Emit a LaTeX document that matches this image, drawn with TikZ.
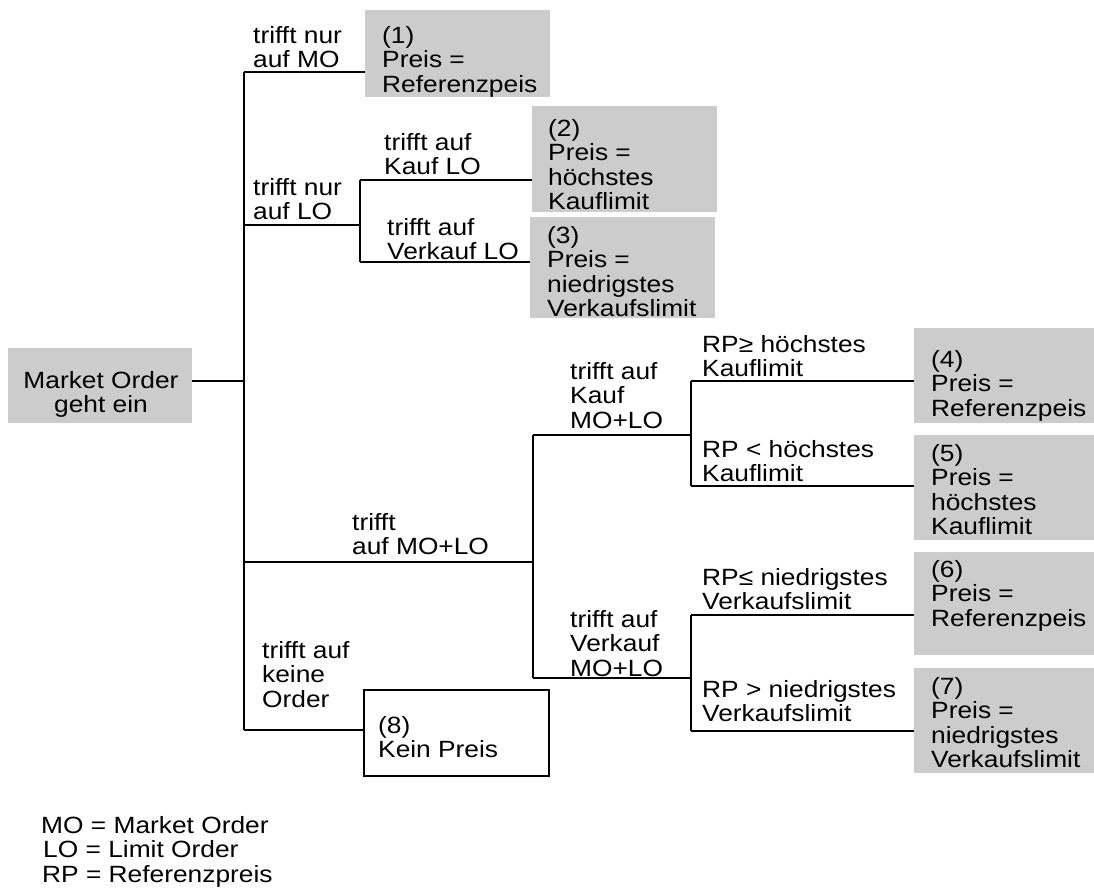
\documentclass[tikz,border=0pt]{standalone}
\usepackage{fontspec}
\setmainfont{Liberation Sans}[FakeStretch=1.12]
\definecolor{boxgray}{HTML}{CCCCCC}
\newcommand\diagfont{\fontsize{23.5}{24.5}\selectfont\lineskiplimit=-100pt\relax}
\tikzset{
  gbox/.style={fill=boxgray, draw=none, inner sep=0pt, anchor=north west},
  wbox/.style={draw=black, line width=1.6pt, fill=white, inner sep=0pt, anchor=north west},
  txt/.style={inner sep=0pt, anchor=north west, align=left, font=\diagfont},
  ctxt/.style={inner sep=0pt, anchor=north, align=center, font=\diagfont},
  ln/.style={line width=2pt, draw=black}
}
\begin{document}
\begin{tikzpicture}[x=1pt,y=-1pt]
\useasboundingbox (0,0) rectangle (1094,891);

% boxes
\node[gbox, minimum width=184pt, minimum height=75pt] (mo) at (8,348) {};
\node[gbox, minimum width=185pt, minimum height=87pt] (b1) at (365,10) {};
\node[gbox, minimum width=185pt, minimum height=106pt] (b2) at (532,106) {};
\node[gbox, minimum width=185pt, minimum height=101pt] (b3) at (530,217) {};
\node[gbox, minimum width=180pt, minimum height=95pt] (b4) at (914,328) {};
\node[gbox, minimum width=180pt, minimum height=105pt] (b5) at (914,435) {};
\node[gbox, minimum width=180pt, minimum height=103pt] (b6) at (914,552) {};
\node[gbox, minimum width=180pt, minimum height=105pt] (b7) at (914,668) {};
\node[wbox, minimum width=185pt, minimum height=86pt] (b8) at (363,689) {};

% junction coordinates
\coordinate (jm) at (244,381);
\coordinate (v0t) at (244,72);
\coordinate (v0b) at (244,730);
\coordinate (jlo) at (244,225);
\coordinate (jml) at (244,562);
\coordinate (s1t) at (360,180);
\coordinate (s1b) at (360,262);
\coordinate (s2t) at (533,435);
\coordinate (s2b) at (533,678);
\coordinate (s3t) at (691,381);
\coordinate (s3b) at (691,486);
\coordinate (s4t) at (691,615);
\coordinate (s4b) at (691,731);

% connectors
\draw[ln] (mo.east |- jm) -- (jm);
\draw[ln] (v0t) -- (v0b);
\draw[ln] (v0t) -- (v0t -| b1.west);
\draw[ln] (jlo) -- (jlo -| s1t);
\draw[ln] (s1t) -- (s1b);
\draw[ln] (s1t) -- (s1t -| b2.west);
\draw[ln] (s1b) -- (s1b -| b3.west);
\draw[ln] (jml) -- (jml -| s2t);
\draw[ln] (s2t) -- (s2b);
\draw[ln] (s2t) -- (s2t -| s3t);
\draw[ln] (s2b) -- (s2b -| s4t);
\draw[ln] (s3t) -- (s3b);
\draw[ln] (s3t) -- (s3t -| b4.west);
\draw[ln] (s3b) -- (s3b -| b5.west);
\draw[ln] (s4t) -- (s4b);
\draw[ln] (s4t) -- (s4t -| b6.west);
\draw[ln] (s4b) -- (s4b -| b7.west);
\draw[ln] (v0b) -- (v0b -| b8.west);

% texts (anchor = top of first line = baseline - 17)
\node[ctxt] (mot) at (101,371) {\strut Market Order\\geht ein};
\node[txt] (t1) at (253,26) {\strut trifft nur\\auf MO};
\node[txt] (b1t) at (382,26) {\strut (1)\\Preis =\\Referenzpeis};
\node[txt] (t2) at (253,178) {\strut trifft nur\\auf LO};
\node[txt] (t21) at (384,133) {\strut trifft auf\\Kauf LO};
\node[txt] (t22) at (387,218) {\strut trifft auf\\Verkauf LO};
\node[txt] (b2t) at (548,119) {\strut (2)\\Preis =\\höchstes\\Kauflimit};
\node[txt] (b3t) at (547,226) {\strut (3)\\Preis =\\niedrigstes\\Verkaufslimit};
\node[txt] (t3) at (352,513) {\strut trifft\\auf MO+LO};
\node[txt] (t31) at (570,362) {\strut trifft auf\\Kauf\\MO+LO};
\node[txt] (t32) at (570,610) {\strut trifft auf\\Verkauf\\MO+LO};
\node[txt] (c1) at (702,335) {\strut RP≥ höchstes\\Kauflimit};
\node[txt] (c2) at (702,440) {\strut RP < höchstes\\Kauflimit};
\node[txt] (c3) at (702,568) {\strut RP≤ niedrigstes\\Verkaufslimit};
\node[txt] (c4) at (702,680) {\strut RP > niedrigstes\\Verkaufslimit};
\node[txt] (b4t) at (931,350) {\strut (4)\\Preis =\\Referenzpeis};
\node[txt] (b5t) at (931,444) {\strut (5)\\Preis =\\höchstes\\Kauflimit};
\node[txt] (b6t) at (931,560) {\strut (6)\\Preis =\\Referenzpeis};
\node[txt] (b7t) at (931,677) {\strut (7)\\Preis =\\niedrigstes\\Verkaufslimit};
\node[txt] (t4) at (262,641) {\strut trifft auf\\keine\\Order};
\node[txt] (b8t) at (378,716) {\strut (8)\\Kein Preis};
\node[txt] (l1) at (41,816) {\strut MO = Market Order};
\node[txt] (l2) at (43,840) {\strut LO = Limit Order};
\node[txt] (l3) at (42,865) {\strut RP = Referenzpreis};
\end{tikzpicture}
\end{document}
